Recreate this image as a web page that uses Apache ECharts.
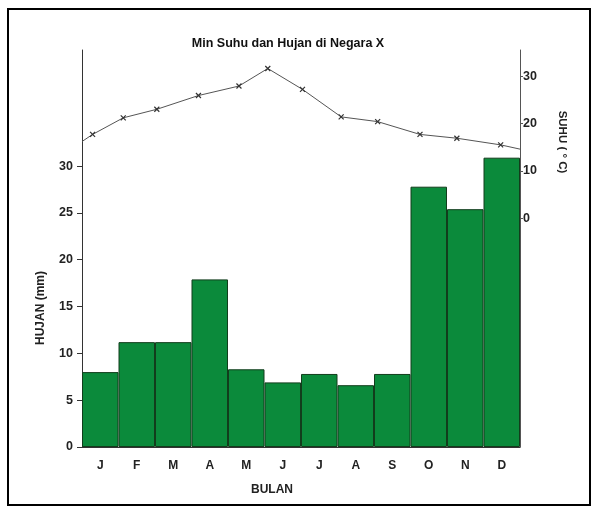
<!DOCTYPE html>
<html>
<head>
<meta charset="utf-8">
<script src="https://cdn.jsdelivr.net/npm/echarts@6/dist/echarts.min.js"></script>
<style>html,body{margin:0;padding:0;background:#fff}#c{width:598px;height:510px}</style>
</head>
<body>
<div id="c"></div>
<script>
var months = ['J','F','M','A','M','J','J','A','S','O','N','D'];
var rain = [8.0, 11.2, 11.2, 17.9, 8.3, 6.9, 7.8, 6.6, 7.8, 27.8, 25.4, 30.9];
// temperature points: position along the month axis (0..12) and value (°C)
var tempPos = [0, 0.29, 1.13, 2.05, 3.19, 4.30, 5.09, 6.04, 7.10, 8.10, 9.26, 10.27, 11.47, 12];
var temp    = [16.2, 17.7, 21.2, 23.0, 25.9, 27.9, 31.6, 27.2, 21.4, 20.4, 17.7, 16.9, 15.5, 14.6];
var rainTicks = [0, 5, 10, 15, 20, 25, 30];
var tempTicks = [0, 10, 20, 30];

var lineData = tempPos.map(function (p, i) {
  var item = { value: [p, temp[i]] };
  if (i === 0 || i === tempPos.length - 1) item.symbol = 'none';
  return item;
});

var font = 'Liberation Sans, Arial, sans-serif';
var chart = echarts.init(document.getElementById('c'), null, { renderer: 'canvas' });
chart.setOption({
  animation: false,
  backgroundColor: '#ffffff',
  grid: { left: 82, right: 78, top: 50, bottom: 63 },
  xAxis: [{
    type: 'category',
    data: months,
    axisLine: { show: true, lineStyle: { color: '#333', width: 1 } },
    axisTick: { show: false },
    axisLabel: { margin: 13, fontFamily: font, fontWeight: 'bold', fontSize: 12, color: '#222' }
  }, {
    type: 'value',
    min: 0, max: 12,
    show: false
  }],
  yAxis: [{
    type: 'value',
    min: 0, max: 42.4,
    position: 'left',
    splitLine: { show: false },
    axisLine: { show: true, lineStyle: { color: '#333', width: 1 } },
    axisTick: { show: true, length: 5, customValues: rainTicks, lineStyle: { color: '#333' } },
    axisLabel: { customValues: rainTicks, margin: 9, fontFamily: font, fontWeight: 'bold', fontSize: 12.5, color: '#222' }
  }, {
    type: 'value',
    min: -48.2, max: 35.5,
    position: 'right',
    splitLine: { show: false },
    axisLine: { show: true, lineStyle: { color: '#555', width: 1 } },
    axisTick: { show: true, length: 3, customValues: tempTicks, lineStyle: { color: '#555' } },
    axisLabel: { customValues: tempTicks, margin: 3, fontFamily: font, fontWeight: 'bold', fontSize: 12.5, color: '#222' }
  }],
  series: [{
    type: 'bar',
    data: rain,
    xAxisIndex: 0, yAxisIndex: 0,
    barCategoryGap: '0%',
    itemStyle: { color: '#0b8a3b', borderColor: '#123d1c', borderWidth: 1 },
    z: 2
  }, {
    type: 'line',
    data: lineData,
    xAxisIndex: 1, yAxisIndex: 1,
    symbol: 'path://M0,0L10,10M10,0L0,10',
    symbolSize: 5,
    showSymbol: true,
    lineStyle: { color: '#555', width: 1 },
    itemStyle: { color: 'none', borderColor: '#333', borderWidth: 1.2 },
    z: 3
  }],
  graphic: [{
    type: 'rect',
    shape: { x: 8, y: 9, width: 582, height: 496 },
    style: { fill: 'none', stroke: '#000', lineWidth: 2 },
    silent: true
  }, {
    type: 'text',
    x: 288, y: 44,
    style: { text: 'Min Suhu dan Hujan di Negara X', fill: '#111', font: 'bold 12.5px ' + font, textAlign: 'center', textVerticalAlign: 'middle' }
  }, {
    type: 'text',
    x: 41, y: 308, rotation: Math.PI / 2,
    style: { text: 'HUJAN (mm)', fill: '#222', font: 'bold 12px ' + font, textAlign: 'center', textVerticalAlign: 'middle' }
  }, {
    type: 'text',
    x: 562, y: 142, rotation: -Math.PI / 2,
    style: { text: 'SUHU ( ° C)', fill: '#222', font: 'bold 11.5px ' + font, textAlign: 'center', textVerticalAlign: 'middle' }
  }, {
    type: 'text',
    x: 272, y: 490,
    style: { text: 'BULAN', fill: '#222', font: 'bold 12px ' + font, textAlign: 'center', textVerticalAlign: 'middle' }
  }]
});
</script>
</body>
</html>
